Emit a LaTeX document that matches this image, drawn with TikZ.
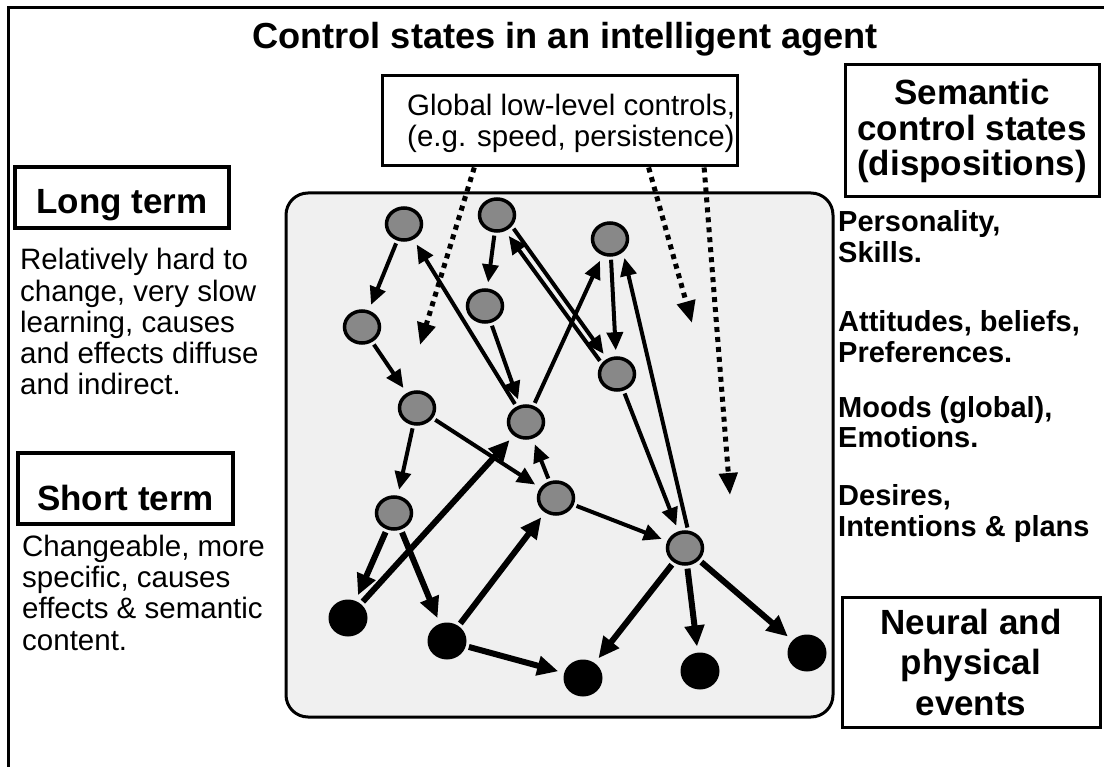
\documentclass[tikz,border=0pt]{standalone}
\usepackage{fontspec}
\setmainfont{Liberation Sans}
\usepackage{tikz}
\usetikzlibrary{calc}
\usetikzlibrary{shapes}
\usetikzlibrary{arrows.meta}
\definecolor{panelgrey}{HTML}{F0F0F0}
\definecolor{stategrey}{HTML}{888888}
\newcommand{\titlefont}{\fontsize{36.2}{42}\selectfont\bfseries}
\newcommand{\headfont}{\fontsize{35}{35.5}\selectfont\bfseries}
\newcommand{\bodyfont}{\fontsize{29.5}{31.3}\selectfont}
\newcommand{\sidefont}{\fontsize{29}{31}\selectfont\bfseries}
\newcommand{\statenode}[3]{ \node[semstate] (#1) at ( #2 , #3 ){};}
\newcommand{\eventnode}[3]{ \node[physevent] (#1) at ( #2 , #3 ){};}
\tikzset{
  semstate/.style={shape=ellipse,draw=black,fill=stategrey,line width=3.5pt,inner sep=0pt,minimum width=35pt,minimum height=32pt},
  physevent/.style={shape=ellipse,fill=black,inner sep=0pt,minimum width=39pt,minimum height=37pt},
  link/.style={line width=4pt,-{Triangle[length=18pt,width=16pt]},shorten <=3pt,shorten >=6pt},
  fatlink/.style={line width=6pt,-{Triangle[length=21pt,width=19pt]},shorten <=3pt,shorten >=6pt},
  dotlink/.style={line width=5pt,dash pattern=on 5pt off 5pt,-{Triangle[length=22pt,width=18pt]}},
  textbox/.style={draw=black,line width=3pt,fill=white,inner sep=0pt}
}

\begin{document}
\begin{tikzpicture}[x=1pt,y=-1pt]
    \useasboundingbox (0,0) rectangle (1104,767);
    \draw[line width=3pt] (8,767) -- (8,8) -- (1104,8);
    % title
    \node[font=\titlefont,anchor=base] (title) at (565,49) {Control states in an intelligent agent};
    % global controls
    \node[textbox,minimum width=355pt,minimum height=90pt] (glob) at (559.5,121) {};
    \node[font=\bodyfont,align=left,anchor=base west,inner sep=0pt] (globtext) at (407,147) {Global low-level controls,\\(e.g. speed, persistence)};
    % left column
    \node[textbox,line width=3.5pt,font=\headfont,minimum width=214pt,text height=47pt,text depth=14pt,anchor=base] (long) at (122,214) {Long term};
    \node[font=\bodyfont,align=left,anchor=base west,inner sep=0pt] (longtext) at (20,395) {Relatively hard to\\change, very slow\\learning, causes\\and effects diffuse\\and indirect.};
    \node[textbox,line width=3.5pt,font=\headfont,minimum width=215pt,text height=57pt,text depth=14pt,anchor=base] (short) at (125.5,510) {Short term};
    \node[font=\bodyfont,align=left,anchor=base west,inner sep=0pt] (shorttext) at (22,650) {Changeable, more\\specific, causes\\effects \& semantic\\content.};
    % right column
    \node[textbox,font=\headfont,align=center,minimum width=254pt,minimum height=132pt] (sem) at (972,131) {Semantic\\control states\\(dispositions)};
    \node[font=\sidefont,align=left,anchor=base west,inner sep=0pt] (pers) at (838,263) {Personality,\\Skills.};
    \node[font=\sidefont,align=left,anchor=base west,inner sep=0pt] (att) at (838,363) {Attitudes, beliefs,\\Preferences.};
    \node[font=\sidefont,align=left,anchor=base west,inner sep=0pt] (moods) at (838,448) {Moods (global),\\Emotions.};
    \node[font=\sidefont,align=left,anchor=base west,inner sep=0pt] (des) at (838,536) {Desires,\\Intentions \& plans};
    \node[textbox,font=\fontsize{35}{40.5}\selectfont\bfseries,align=center,minimum width=258pt,minimum height=130pt] (neural) at (971,662) {Neural and\\physical\\events};
    % panel
    \draw[line width=3pt,fill=panelgrey,rounded corners=22pt] (286,193) rectangle (833,717);
    % semantic states
    \statenode{sa}{404}{224}
    \statenode{sb}{497}{215}
    \statenode{sc}{362}{327}
    \statenode{sd}{485}{306}
    \statenode{se}{417}{408}
    \statenode{sf}{526}{422}
    \statenode{sg}{610}{239}
    \statenode{sh}{617}{374}
    \statenode{si}{394}{513}
    \statenode{sl}{556}{498}
    \statenode{sm}{685}{548}
    % physical events
    \eventnode{ev1}{348}{618}
    \eventnode{ev2}{447}{641}
    \eventnode{ev3}{583}{678}
    \eventnode{ev4}{700}{671}
    \eventnode{ev5}{807}{653}
    % links
    \draw[link] (sa) -- (sc);
    \draw[link] (sf) -- (sa);
    \draw[link] (sb) -- (sd);
    \draw[link] (sb.-37) -- (sh.123);
    \draw[link] (sh.145) -- (sb.-63);
    \draw[link] (sd) -- (sf);
    \draw[link] (sf) -- (sg);
    \draw[link] (sg) -- (sh);
    \draw[link] (sc) -- (se);
    \draw[link] (se) -- (si);
    \draw[link] (se) -- (sl);
    \draw[link] (sl) -- (sf);
    \draw[link] (sl) -- (sm);
    \draw[link] (sh) -- (sm);
    \draw[link] (sm.80) -- (sg.-45);
    \draw[fatlink] (si) -- (ev1);
    \draw[fatlink] (si) -- (ev2);
    \draw[fatlink] (ev1) -- (sf);
    \draw[fatlink] (ev2) -- (sl);
    \draw[fatlink] (ev2) -- (ev3);
    \draw[fatlink] (sm) -- (ev3);
    \draw[fatlink] (sm) -- (ev4);
    \draw[fatlink] (sm) -- (ev5);
    % low-level controls
    \coordinate (d1) at ($(glob.south west)!0.262!(glob.south east)$);
    \coordinate (d2) at ($(glob.south west)!0.749!(glob.south east)$);
    \coordinate (d3) at ($(glob.south west)!0.904!(glob.south east)$);
    \coordinate (t1) at (420,345);
    \coordinate (t2) at (692,323);
    \coordinate (t3) at (730,495);
    \draw[dotlink] (d1) -- (t1);
    \draw[dotlink] (d2) -- (t2);
    \draw[dotlink] (d3) -- (t3);
\end{tikzpicture}
\end{document}
